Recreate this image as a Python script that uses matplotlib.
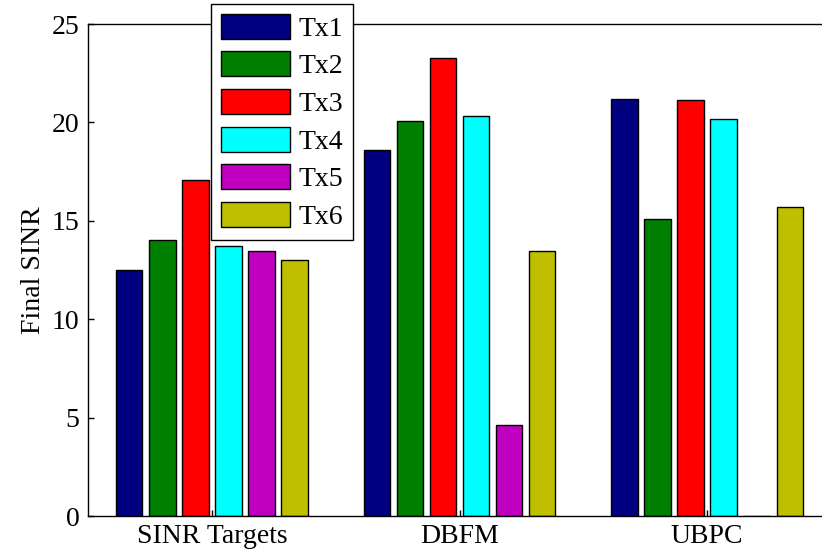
import matplotlib
matplotlib.use('Agg')
import matplotlib.pyplot as plt
import numpy as np

# groups on the x axis
groups = ['SINR Targets', 'DBFM', 'UBPC']

# final SINR per transmitter, one list per series
tx1 = [12.5, 18.62, 21.2]
tx2 = [14.02, 20.07, 15.07]
tx3 = [17.05, 23.25, 21.12]
tx4 = [13.72, 20.32, 20.15]
tx5 = [13.45, 4.6, 0.0]
tx6 = [13.03, 13.47, 15.68]

series = [tx1, tx2, tx3, tx4, tx5, tx6]
labels = ['Tx1', 'Tx2', 'Tx3', 'Tx4', 'Tx5', 'Tx6']
colors = ['#000080', '#008000', '#ff0000', '#00ffff', '#bf00bf', '#bfbf00']

plt.rcParams['font.family'] = ['Liberation Serif', 'DejaVu Serif']
plt.rcParams['font.size'] = 20

fig = plt.figure(figsize=(8.22, 5.53), dpi=100)
# axes run a little past the right edge of the image, like the original crop
ax = fig.add_axes([88 / 822, 1 - 516 / 553, (831 - 88) / 822, (516 - 24) / 553])

x = np.arange(1, len(groups) + 1)
n = len(series)
step = 0.8 / n
width = step * 0.8

handles = []
for i, (vals, lab, col) in enumerate(zip(series, labels, colors)):
    offs = (i - (n - 1) / 2) * step
    b = ax.bar(x + offs, vals, width, color=col, edgecolor='black',
               linewidth=1.0, label=lab)
    handles.append(b)

ax.set_xlim(0.5, 3.5)
ax.set_ylim(0, 25)
ax.set_xticks(x)
ax.set_xticklabels(groups)
ax.set_yticks([0, 5, 10, 15, 20, 25])
ax.set_ylabel('Final SINR')
ax.tick_params(direction='in', length=4.5, width=1.0, pad=6)
for s in ax.spines.values():
    s.set_linewidth(1.0)

leg = fig.legend(handles, labels, loc='upper left',
                 bbox_to_anchor=(211 / 822, 1 - 4 / 553),
                 fancybox=False, framealpha=1, edgecolor='black',
                 handlelength=2.5, handleheight=1.0, handletextpad=0.3,
                 labelspacing=0.35, borderpad=0.35, borderaxespad=0)
leg.get_frame().set_linewidth(1.0)

fig.savefig('out.png', dpi=100)
